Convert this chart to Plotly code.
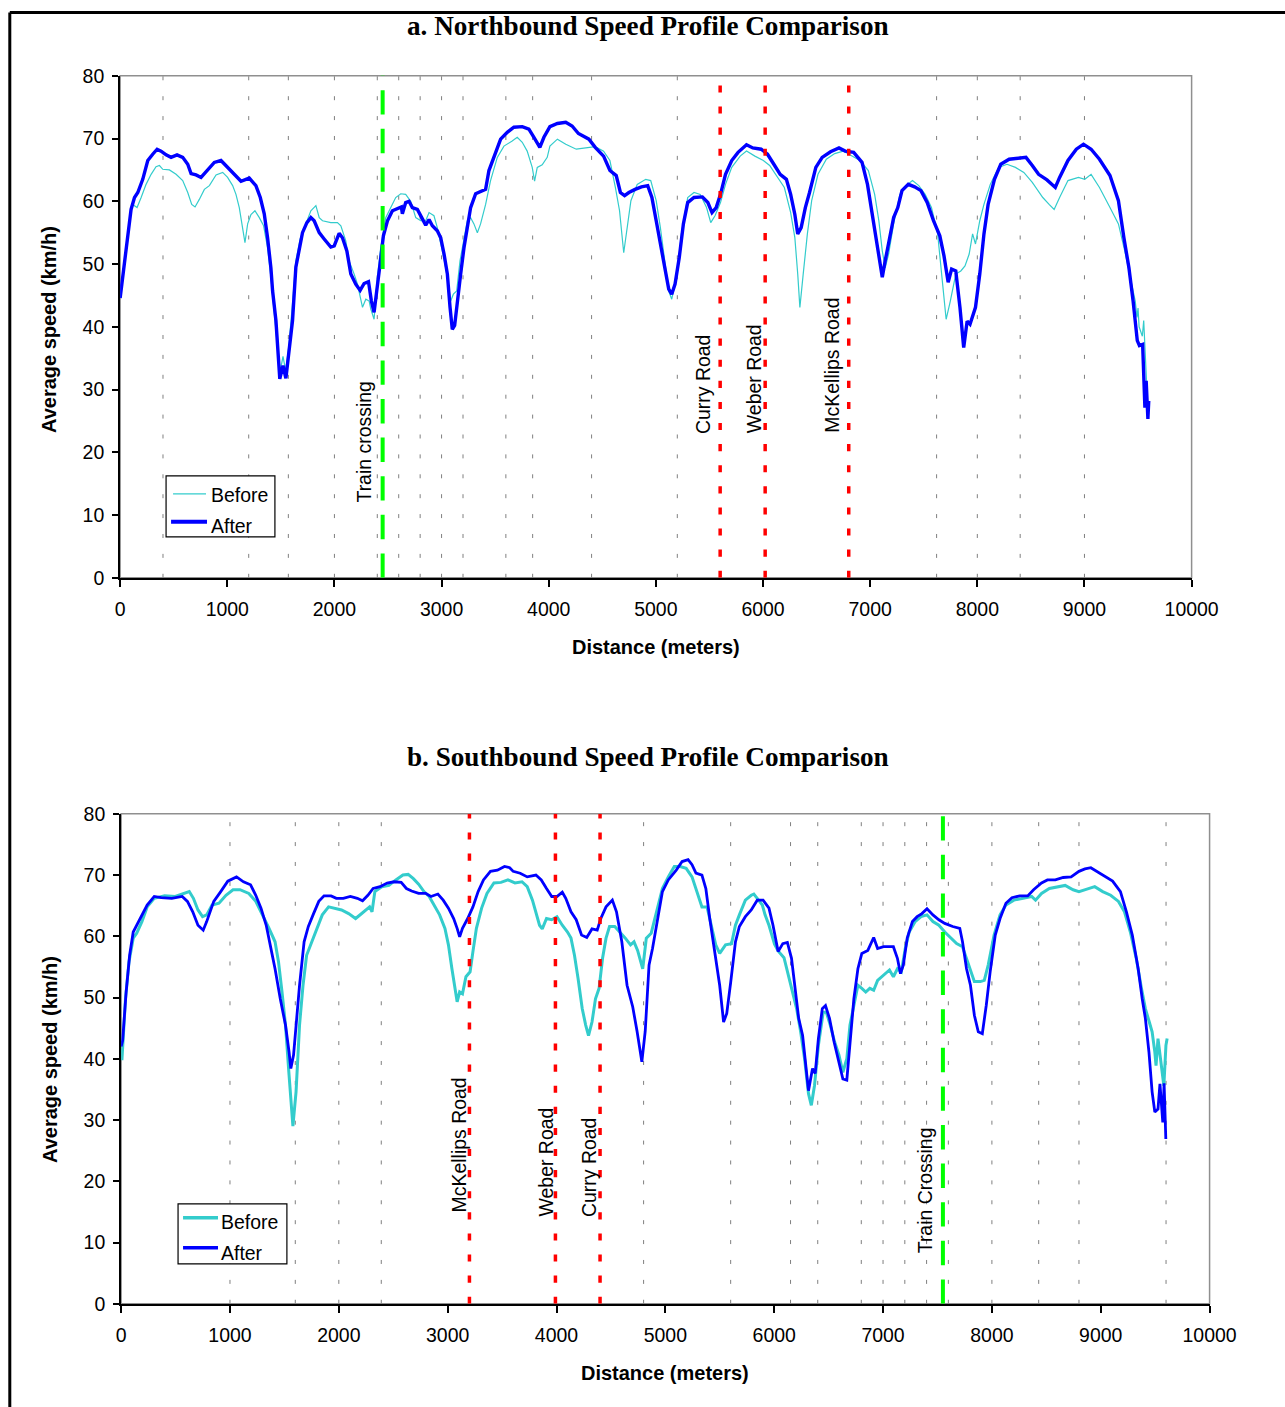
import plotly.graph_objects as go

# ---------------------------------------------------------------------------
# Speed profiles: (distance in metres, average speed in km/h)
# ---------------------------------------------------------------------------
NB_BEFORE = [
    (0, 44.6), (40, 50.0), (71, 54.5), (95, 58.0), (118, 59.5), (158, 59.0), (196, 60.6),
    (242, 62.7), (289, 64.3), (335, 65.5), (367, 65.7), (398, 65.1), (460, 65.0), (522, 64.3),
    (584, 63.3), (631, 61.4), (668, 59.5), (699, 59.1), (739, 60.3), (786, 61.9), (833, 62.5),
    (895, 64.2), (957, 64.6), (1003, 63.8), (1050, 62.5), (1081, 61.1), (1112, 59.0),
    (1143, 55.8), (1165, 53.4), (1190, 56.4), (1221, 57.9), (1258, 58.5), (1299, 57.4),
    (1339, 56.1), (1376, 52.6), (1407, 47.9), (1438, 42.0), (1470, 36.5), (1495, 33.0),
    (1520, 35.3), (1545, 33.0), (1575, 37.0), (1605, 43.0), (1640, 50.5), (1680, 54.0),
    (1733, 56.4), (1780, 58.5), (1827, 59.3), (1858, 57.4), (1889, 56.9), (1966, 56.6),
    (2028, 56.6), (2060, 56.1), (2106, 53.7), (2137, 50.5), (2184, 48.4), (2215, 46.8),
    (2262, 43.1), (2293, 44.4), (2324, 44.1), (2340, 42.8), (2370, 41.2), (2401, 47.9),
    (2432, 52.6), (2479, 57.4), (2526, 59.0), (2572, 60.6), (2619, 61.2), (2665, 61.1),
    (2712, 60.0), (2759, 57.4), (2805, 56.9), (2852, 56.9), (2883, 58.2), (2929, 57.7),
    (2960, 55.8), (2992, 53.4), (3023, 50.8), (3054, 47.9), (3085, 44.1), (3110, 45.2),
    (3141, 45.7), (3172, 50.5), (3209, 53.7), (3240, 56.9), (3271, 57.4), (3302, 56.4),
    (3334, 55.0), (3364, 56.4), (3411, 59.5), (3457, 63.3), (3520, 67.0), (3582, 68.8),
    (3659, 69.6), (3706, 70.2), (3753, 69.4), (3799, 68.0), (3846, 65.4), (3868, 63.2),
    (3893, 65.4), (3939, 65.8), (3986, 67.0), (4011, 68.8), (4081, 69.9), (4159, 69.1),
    (4257, 68.3), (4355, 68.5), (4434, 68.7), (4512, 68.0), (4571, 66.5), (4622, 62.2),
    (4661, 58.5), (4700, 51.8), (4728, 55.3), (4767, 60.1), (4826, 62.7), (4905, 63.5),
    (4952, 63.3), (5003, 60.1), (5042, 55.8), (5081, 50.5), (5120, 45.7), (5148, 44.4),
    (5199, 48.4), (5238, 54.8), (5297, 60.6), (5356, 61.4), (5414, 61.1), (5473, 59.0),
    (5512, 56.6), (5552, 57.7), (5603, 59.8), (5650, 62.7), (5708, 65.4), (5787, 67.2),
    (5846, 68.0), (5924, 67.2), (6003, 66.5), (6062, 65.7), (6140, 63.8), (6199, 62.2),
    (6258, 58.2), (6297, 54.2), (6324, 48.4), (6344, 43.1), (6375, 48.4), (6414, 54.8),
    (6454, 60.1), (6513, 64.3), (6591, 66.7), (6669, 67.6), (6748, 68.0), (6826, 67.2),
    (6905, 66.5), (6983, 64.9), (7042, 61.1), (7081, 56.9), (7113, 52.1), (7140, 49.4),
    (7172, 51.6), (7219, 56.4), (7277, 61.1), (7336, 62.5), (7395, 63.3), (7454, 62.5),
    (7513, 61.1), (7572, 59.0), (7630, 54.8), (7670, 47.9), (7709, 41.2), (7748, 44.1),
    (7799, 48.4), (7846, 48.9), (7885, 49.7), (7924, 51.6), (7956, 54.8), (7983, 53.2),
    (8023, 56.9), (8062, 59.5), (8121, 62.7), (8199, 65.4), (8277, 65.9), (8356, 65.4),
    (8434, 64.6), (8513, 63.0), (8611, 60.6), (8670, 59.5), (8717, 58.7), (8768, 60.6),
    (8846, 63.3), (8944, 63.8), (9003, 63.5), (9062, 64.3), (9140, 62.2), (9238, 59.0),
    (9317, 56.4), (9376, 52.1), (9435, 47.3), (9474, 44.1), (9490, 41.5), (9500, 43.0),
    (9510, 40.0), (9540, 38.5), (9553, 41.0), (9570, 36.0), (9580, 31.0),
]

NB_AFTER = [
    (0, 44.6), (40, 50.5), (71, 55.3), (102, 58.7), (134, 60.6), (165, 61.4), (211, 63.5),
    (258, 66.5), (304, 67.5), (345, 68.3), (382, 68.0), (429, 67.4), (475, 67.0), (531, 67.4),
    (584, 67.0), (631, 65.9), (662, 64.4), (708, 64.2), (755, 63.8), (817, 65.1), (879, 66.2),
    (941, 66.5), (988, 65.7), (1050, 64.6), (1128, 63.2), (1205, 63.7), (1267, 62.5),
    (1308, 60.6), (1345, 58.0), (1376, 54.2), (1407, 49.4), (1423, 45.7), (1454, 41.0),
    (1490, 31.7), (1520, 33.8), (1547, 31.8), (1578, 36.2), (1609, 41.0), (1640, 49.5),
    (1671, 52.6), (1702, 55.0), (1743, 56.6), (1780, 57.4), (1811, 56.9), (1858, 55.0),
    (1904, 54.0), (1966, 52.7), (1998, 52.9), (2044, 54.9), (2075, 54.2), (2116, 52.1),
    (2153, 48.4), (2199, 46.8), (2240, 45.8), (2277, 46.9), (2318, 47.2), (2345, 44.1),
    (2370, 42.3), (2395, 46.3), (2426, 50.0), (2457, 54.5), (2495, 56.9), (2541, 58.5),
    (2588, 58.9), (2625, 59.1), (2634, 58.0), (2665, 59.8), (2696, 60.0), (2727, 59.0),
    (2774, 58.7), (2805, 57.7), (2852, 56.2), (2883, 57.1), (2914, 56.1), (2960, 55.3),
    (2992, 54.2), (3023, 51.6), (3054, 48.4), (3079, 43.1), (3100, 39.6), (3122, 40.2),
    (3153, 45.2), (3178, 48.4), (3209, 52.6), (3240, 55.8), (3271, 59.0), (3318, 61.2),
    (3364, 61.5), (3411, 61.9), (3442, 64.9), (3488, 67.0), (3551, 69.9), (3613, 71.0),
    (3675, 71.8), (3753, 71.9), (3815, 71.5), (3862, 70.2), (3917, 68.6), (3955, 70.2),
    (4011, 71.9), (4081, 72.4), (4159, 72.6), (4218, 72.0), (4277, 70.8), (4375, 69.9),
    (4434, 68.6), (4512, 67.2), (4571, 64.9), (4630, 64.1), (4669, 61.4), (4708, 60.9),
    (4748, 61.4), (4806, 61.9), (4865, 62.3), (4924, 62.5), (4963, 60.6), (5003, 56.9),
    (5042, 53.4), (5081, 49.4), (5120, 46.0), (5148, 45.2), (5179, 46.8), (5218, 51.0),
    (5257, 56.4), (5297, 59.8), (5356, 60.6), (5434, 60.7), (5485, 59.8), (5524, 58.2),
    (5563, 59.0), (5603, 61.1), (5650, 64.3), (5708, 66.5), (5767, 67.8), (5846, 69.0),
    (5905, 68.5), (5983, 68.3), (6042, 67.5), (6101, 65.9), (6160, 64.3), (6218, 63.5),
    (6258, 61.1), (6297, 57.9), (6324, 54.8), (6356, 55.8), (6395, 59.0), (6434, 61.4),
    (6493, 65.4), (6552, 67.0), (6630, 67.9), (6709, 68.5), (6767, 68.0), (6846, 67.8),
    (6924, 66.2), (6975, 62.7), (7022, 57.9), (7062, 53.7), (7093, 50.0), (7113, 47.9),
    (7140, 50.5), (7179, 54.2), (7219, 57.4), (7258, 59.0), (7297, 61.7), (7356, 62.7),
    (7415, 62.3), (7474, 61.7), (7532, 59.8), (7591, 56.9), (7650, 54.5), (7689, 51.3),
    (7728, 47.1), (7760, 49.2), (7799, 48.9), (7838, 43.1), (7873, 36.7), (7905, 40.9),
    (7932, 40.4), (7983, 43.1), (8023, 48.4), (8062, 54.8), (8101, 59.5), (8160, 63.5),
    (8219, 65.9), (8297, 66.7), (8395, 66.9), (8454, 67.0), (8513, 65.7), (8572, 64.3),
    (8650, 63.4), (8728, 62.2), (8768, 63.8), (8846, 66.5), (8924, 68.3), (8991, 69.1),
    (9062, 68.3), (9140, 66.7), (9238, 64.1), (9317, 60.1), (9368, 54.2), (9415, 49.4),
    (9454, 44.1), (9493, 37.8), (9513, 37.0), (9543, 37.2), (9564, 27.1), (9576, 31.4),
    (9592, 25.3), (9600, 28.2),
]

SB_BEFORE = [
    (0, 40.0), (8, 40.0), (40, 49.8), (72, 55.8), (111, 59.7), (143, 60.5), (191, 62.4),
    (239, 64.8), (304, 66.2), (400, 66.6), (497, 66.5), (577, 67.0), (626, 67.3), (664, 66.2),
    (706, 64.3), (748, 63.2), (786, 63.5), (835, 65.1), (899, 65.4), (963, 66.7), (1028, 67.6),
    (1092, 67.6), (1173, 67.0), (1237, 65.7), (1301, 63.5), (1359, 61.3), (1414, 59.1),
    (1446, 55.8), (1478, 50.9), (1510, 45.5), (1543, 37.3), (1578, 29.0), (1607, 34.6),
    (1639, 45.5), (1671, 52.0), (1704, 56.9), (1752, 59.1), (1800, 61.3), (1848, 63.5),
    (1906, 64.8), (1961, 64.6), (2025, 64.3), (2090, 63.7), (2154, 62.9), (2202, 63.6),
    (2250, 64.3), (2283, 64.8), (2305, 64.0), (2331, 67.3), (2395, 68.1), (2460, 68.3),
    (2524, 69.2), (2589, 70.0), (2637, 70.1), (2685, 69.4), (2733, 68.5), (2782, 67.3),
    (2830, 66.5), (2878, 65.1), (2926, 63.5), (2975, 61.3), (3007, 58.6), (3039, 54.7),
    (3065, 52.0), (3087, 49.3), (3110, 50.9), (3136, 50.6), (3168, 53.4), (3206, 54.2),
    (3232, 57.5), (3264, 61.3), (3312, 64.6), (3361, 67.0), (3425, 68.7), (3490, 68.8),
    (3554, 69.2), (3618, 68.7), (3683, 68.9), (3731, 68.1), (3779, 65.9), (3818, 63.5),
    (3844, 61.8), (3869, 61.2), (3908, 62.9), (3956, 62.7), (4004, 63.2), (4053, 61.8),
    (4101, 60.7), (4133, 59.7), (4165, 56.9), (4198, 53.1), (4236, 48.2), (4268, 45.5),
    (4294, 43.8), (4326, 46.0), (4358, 49.8), (4391, 51.5), (4423, 56.4), (4455, 59.7),
    (4487, 61.6), (4535, 61.6), (4583, 60.7), (4632, 59.7), (4680, 58.6), (4712, 59.1),
    (4745, 57.7), (4792, 54.7), (4825, 59.7), (4870, 60.5), (4919, 64.0), (4973, 67.8),
    (5027, 69.7), (5082, 71.4), (5136, 71.4), (5191, 71.1), (5245, 69.7), (5299, 66.7),
    (5336, 64.8), (5383, 64.8), (5419, 61.8), (5463, 58.6), (5499, 57.2), (5553, 58.6),
    (5608, 58.8), (5644, 61.8), (5680, 63.5), (5735, 65.9), (5789, 66.7), (5813, 66.9),
    (5844, 66.2), (5891, 65.1), (5916, 63.5), (5952, 61.8), (6003, 58.7), (6036, 57.6),
    (6090, 56.5), (6136, 53.3), (6167, 51.1), (6206, 48.2), (6243, 44.4), (6279, 40.0),
    (6315, 34.3), (6341, 32.4), (6370, 35.6), (6406, 42.2), (6450, 47.6), (6479, 47.6),
    (6515, 45.5), (6551, 43.0), (6595, 40.6), (6631, 37.8), (6667, 40.0), (6696, 45.5),
    (6732, 48.7), (6769, 52.0), (6805, 51.5), (6841, 50.9), (6878, 51.5), (6914, 51.2),
    (6950, 52.8), (6986, 53.4), (7023, 53.9), (7059, 54.5), (7095, 53.4), (7132, 54.7),
    (7168, 54.2), (7204, 58.0), (7240, 60.7), (7295, 62.4), (7349, 63.2), (7404, 63.5),
    (7458, 62.4), (7513, 61.8), (7567, 60.7), (7622, 59.7), (7676, 58.8), (7730, 58.3),
    (7784, 55.3), (7839, 52.6), (7894, 52.6), (7930, 52.8), (7966, 55.3), (8020, 60.2),
    (8075, 63.5), (8129, 65.1), (8202, 65.9), (8293, 66.3), (8365, 66.5), (8401, 65.9),
    (8456, 67.0), (8528, 67.8), (8601, 68.1), (8673, 68.3), (8746, 67.6), (8800, 67.3),
    (8873, 67.7), (8945, 68.1), (9018, 67.3), (9091, 66.7), (9163, 65.7), (9218, 64.0),
    (9272, 60.7), (9326, 56.4), (9374, 51.5), (9410, 48.2), (9446, 46.0), (9472, 44.4),
    (9497, 41.1), (9508, 38.9), (9526, 43.3), (9555, 38.9), (9580, 35.6), (9599, 42.2),
    (9610, 43.3),
]

SB_AFTER = [
    (0, 42.0), (14, 43.0), (46, 50.9), (78, 56.9), (111, 60.7), (143, 61.8), (191, 63.2),
    (239, 65.1), (304, 66.5), (368, 66.3), (465, 66.2), (561, 66.5), (609, 65.7), (658, 64.0),
    (706, 61.8), (754, 61.0), (786, 62.4), (851, 65.7), (915, 67.3), (980, 69.0), (1060, 69.7),
    (1124, 68.9), (1189, 68.4), (1237, 66.7), (1285, 64.6), (1333, 61.8), (1382, 57.5),
    (1414, 54.7), (1462, 49.8), (1510, 45.5), (1543, 41.1), (1559, 38.4), (1584, 40.6),
    (1607, 45.5), (1639, 52.0), (1681, 59.1), (1720, 61.6), (1768, 63.7), (1816, 65.7),
    (1864, 66.6), (1929, 66.6), (1977, 66.2), (2041, 66.2), (2106, 66.5), (2170, 66.2),
    (2218, 65.8), (2267, 66.7), (2315, 67.8), (2379, 68.1), (2444, 68.7), (2508, 68.9),
    (2573, 68.8), (2621, 67.8), (2669, 67.4), (2733, 67.0), (2798, 67.0), (2846, 66.5),
    (2910, 66.9), (2959, 65.9), (3007, 64.6), (3055, 62.9), (3087, 61.3), (3110, 59.9),
    (3136, 61.3), (3184, 62.9), (3232, 64.8), (3280, 67.3), (3329, 69.2), (3393, 70.6),
    (3457, 70.8), (3522, 71.4), (3570, 71.2), (3602, 70.6), (3666, 70.3), (3731, 69.7),
    (3811, 70.0), (3860, 69.2), (3908, 67.8), (3956, 66.5), (4004, 66.5), (4053, 67.2),
    (4085, 66.2), (4133, 64.0), (4181, 62.7), (4230, 60.2), (4278, 59.8), (4326, 61.2),
    (4374, 61.0), (4407, 62.9), (4455, 64.8), (4513, 65.9), (4551, 64.0), (4600, 59.1),
    (4648, 52.0), (4700, 48.5), (4740, 44.5), (4784, 39.5), (4815, 44.5), (4850, 55.3),
    (4882, 58.0), (4919, 61.8), (4973, 67.3), (5027, 69.2), (5100, 70.8), (5154, 72.2),
    (5209, 72.5), (5245, 71.7), (5281, 70.3), (5336, 70.0), (5372, 67.8), (5408, 62.9),
    (5463, 56.4), (5499, 52.0), (5535, 46.0), (5564, 47.4), (5601, 52.6), (5644, 59.1),
    (5680, 61.6), (5735, 63.2), (5789, 64.3), (5844, 65.9), (5898, 65.9), (5952, 64.6),
    (5989, 61.8), (6036, 57.5), (6079, 58.8), (6121, 59.0), (6159, 56.4), (6196, 50.9),
    (6225, 46.6), (6261, 43.8), (6290, 38.4), (6315, 34.8), (6352, 38.4), (6377, 37.6),
    (6406, 43.3), (6442, 48.2), (6471, 48.7), (6508, 46.6), (6551, 42.7), (6595, 39.5),
    (6631, 36.7), (6667, 36.5), (6696, 42.7), (6732, 49.8), (6769, 54.7), (6805, 57.2),
    (6860, 57.7), (6914, 59.8), (6950, 58.0), (7004, 58.3), (7095, 58.3), (7132, 56.4),
    (7160, 53.9), (7186, 55.3), (7222, 59.7), (7270, 62.4), (7313, 63.2), (7357, 63.7),
    (7404, 64.5), (7458, 63.5), (7513, 62.7), (7567, 62.1), (7640, 61.6), (7705, 61.3),
    (7730, 59.1), (7767, 54.7), (7803, 52.0), (7839, 47.1), (7875, 44.4), (7912, 44.1),
    (7948, 48.7), (7984, 54.2), (8031, 60.2), (8075, 62.9), (8129, 65.4), (8184, 66.3),
    (8256, 66.6), (8329, 66.6), (8383, 67.6), (8456, 68.7), (8510, 69.2), (8583, 69.2),
    (8655, 69.6), (8728, 69.7), (8800, 70.6), (8855, 71.0), (8909, 71.2), (8964, 70.6),
    (9036, 69.7), (9109, 69.0), (9181, 67.3), (9236, 64.0), (9290, 60.2), (9344, 54.7),
    (9381, 49.8), (9410, 46.6), (9443, 41.1), (9472, 34.6), (9497, 31.3), (9526, 31.8),
    (9544, 35.9), (9570, 29.6), (9582, 36.0), (9598, 26.9),
]

# Survey reference points (faint vertical guides) along each direction
NB_GUIDES = [400, 1200, 1570, 2000, 2400, 2600, 2800, 3000, 3200, 3600, 3850,
             4400, 5200, 7620, 8000, 8400, 9000]
SB_GUIDES = [1000, 1600, 2000, 2390, 4800, 5600, 6150, 6400, 6800, 7000, 7200,
             7400, 7600, 8000, 8430, 8800, 9600]

# Landmarks: (label, distance in metres)
NB_ROADS = [("Curry Road", 5600), ("Weber Road", 6020), ("McKellips Road", 6800)]
NB_TRAIN = ("Train crossing", 2450)
SB_ROADS = [("McKellips Road", 3200), ("Weber Road", 3990), ("Curry Road", 4400)]
SB_TRAIN = ("Train Crossing", 7550)

X_TICKS = list(range(0, 10001, 1000))
X_TICK_TEXT = [str(v) for v in X_TICKS]
Y_TICKS = list(range(0, 81, 10))

SERIES_NAMES = ["Before", "After"]
TITLES = ["a. Northbound Speed Profile Comparison", "b. Southbound Speed Profile Comparison"]
X_TITLE = "Distance (meters)"
Y_TITLE = "Average speed (km/h)"

# ---------------------------------------------------------------------------
# Page geometry and styling.  Layout positions below are page pixels; the
# helpers convert them to paper coordinates, allowing for the small scale and
# offset between the figure canvas and the captured page.
# ---------------------------------------------------------------------------
W, H = 1312, 1418
SCALE_X, SCALE_Y = 0.977, 0.9845
OFF_X, OFF_Y = 3.7, 10.2
SANS = "Liberation Sans, Arial, sans-serif"
SERIF = "Liberation Serif, Times New Roman, serif"
CYAN = "#33CCCC"
BLUE = "#0000FF"
FONT_K = 1.025


def cx(p):
    """page x pixel -> canvas pixel"""
    return (p - OFF_X) / SCALE_X


def cy(p):
    """page y pixel -> canvas pixel"""
    return (p - OFF_Y) / SCALE_Y


def fx(p):
    return cx(p) / W


def fy(p):
    return 1 - cy(p) / H


def fs(size):
    return round(size * FONT_K, 2)


PANELS = [
    dict(left=119, right=1192, top=75, bottom=577),
    dict(left=120, right=1210, top=813, bottom=1303),
]

fig = go.Figure()


def unzip(pairs):
    return [p[0] for p in pairs], [p[1] for p in pairs]


LINE_STYLES = [
    # (before width, after width) per panel
    (1.2, 3.4),
    (3.0, 2.8),
]
series = [
    (NB_BEFORE, NB_AFTER, "x", "y"),
    (SB_BEFORE, SB_AFTER, "x2", "y2"),
]
for (before, after, xa, ya), (wb, wa) in zip(series, LINE_STYLES):
    for pairs, name, color, width in ((before, SERIES_NAMES[0], CYAN, wb),
                                      (after, SERIES_NAMES[1], BLUE, wa)):
        xs, ys = unzip(pairs)
        fig.add_trace(go.Scatter(x=xs, y=ys, mode="lines", name=name,
                                 line=dict(color=color, width=width),
                                 xaxis=xa, yaxis=ya, showlegend=False))

axis_font = dict(family=SANS, size=fs(19), color="black")


def xaxis_cfg(panel, anchor):
    return dict(domain=[fx(panel["left"]), fx(panel["right"])], anchor=anchor,
                range=[0, 10000], tickvals=X_TICKS, ticktext=X_TICK_TEXT,
                ticks="outside", ticklen=7,
                tickwidth=1.5, tickcolor="black", showline=True, linecolor="black",
                linewidth=2, showgrid=False, zeroline=False, tickfont=axis_font,
                ticklabelstandoff=6, fixedrange=True)


def yaxis_cfg(panel, anchor):
    return dict(domain=[fy(panel["bottom"]), fy(panel["top"])], anchor=anchor,
                range=[0, 80], tickvals=Y_TICKS, ticks="outside", ticklen=6,
                tickwidth=1.5, tickcolor="black", showline=True, linecolor="black",
                linewidth=2, showgrid=False, zeroline=False, tickfont=axis_font,
                ticklabelstandoff=4, fixedrange=True)


shapes = []
annotations = []

# outer page frame (top and left edges)
shapes.append(dict(type="line", xref="paper", yref="paper", x0=fx(8.5), x1=1.0,
                   y0=1 - 1.5 / H, y1=1 - 1.5 / H, line=dict(color="black", width=3)))
shapes.append(dict(type="line", xref="paper", yref="paper", x0=fx(8.5), x1=fx(8.5),
                   y0=1 - 1.5 / H, y1=0, line=dict(color="black", width=3)))

panel_specs = [
    (PANELS[0], "x", "y", NB_GUIDES, NB_ROADS, NB_TRAIN,
     {"Curry Road": (-16, 435), "Weber Road": (-11, 434), "McKellips Road": (-16, 434)},
     (-18, 504)),
    (PANELS[1], "x2", "y2", SB_GUIDES, SB_ROADS, SB_TRAIN,
     {"McKellips Road": (-10, 1214), "Weber Road": (-9, 1218), "Curry Road": (-11, 1218)},
     (-18, 1254)),
]

label_font = dict(family=SANS, size=fs(19), color="black")
for panel, xa, ya, guides, roads, train, road_pos, train_pos in panel_specs:
    # grey frame around the plotting area (left/bottom are covered by the axes)
    shapes.append(dict(type="rect", xref=f"{xa} domain", yref=f"{ya} domain",
                       x0=0, x1=1, y0=0, y1=1, layer="below",
                       line=dict(color="#8f8f8f", width=1.5)))
    for g in guides:
        shapes.append(dict(type="line", xref=xa, yref=ya, x0=g, x1=g, y0=0, y1=80,
                           layer="below",
                           line=dict(color="#7f7f7f", width=1, dash="4px,15.9px")))
    for name, pos in roads:
        shapes.append(dict(type="line", xref=xa, yref=ya, x0=pos, x1=pos, y0=0, y1=80,
                           line=dict(color="#FF0000", width=3.5, dash="7.1px,14px")))
        dx, ybot = road_pos[name]
        annotations.append(dict(text=name, xref=xa, yref="paper", x=pos,
                                xshift=dx / SCALE_X, y=fy(ybot), xanchor="center",
                                yanchor="bottom", textangle=-90, showarrow=False,
                                font=label_font))
    tname, tpos = train
    shapes.append(dict(type="line", xref=xa, yref=ya, x0=tpos, x1=tpos, y0=0, y1=80.4,
                       line=dict(color="#00FF00", width=4, dash="24.4px,14.2px")))
    annotations.append(dict(text=tname, xref=xa, yref="paper", x=tpos,
                            xshift=train_pos[0] / SCALE_X, y=fy(train_pos[1]),
                            xanchor="center", yanchor="bottom", textangle=-90,
                            showarrow=False, font=label_font))

# legend boxes drawn as shapes + text
LEGENDS = [
    dict(box=(165, 475, 274, 536), rows=[(493, 172, 205, 494), (521, 170, 206, 525.5)],
         text_x=208.5, widths=(1.2, 4.0)),
    dict(box=(177, 1203, 286, 1263), rows=[(1217, 182, 217, 1221), (1247, 182, 217, 1252)],
         text_x=219.5, widths=(3.5, 3.5)),
]
for leg in LEGENDS:
    x0, y0, x1, y1 = leg["box"]
    shapes.append(dict(type="rect", xref="paper", yref="paper",
                       x0=fx(x0), x1=fx(x1), y0=fy(y1), y1=fy(y0),
                       fillcolor="white", line=dict(color="black", width=1.2)))
    for (ly, lx0, lx1, ty), name, color, w in zip(leg["rows"], SERIES_NAMES,
                                                   (CYAN, BLUE), leg["widths"]):
        shapes.append(dict(type="line", xref="paper", yref="paper",
                           x0=fx(lx0), x1=fx(lx1), y0=fy(ly), y1=fy(ly),
                           line=dict(color=color, width=w)))
        annotations.append(dict(text=name, xref="paper", yref="paper",
                                x=fx(leg["text_x"]), y=fy(ty), xanchor="left",
                                yanchor="middle", showarrow=False, borderpad=0,
                                font=label_font))

# titles and axis titles
title_y = [25, 756]
xtitle_pos = [(656, 646), (665, 1372)]
ytitle_pos = [(48, 329), (49, 1059)]
for k in range(2):
    annotations.append(dict(text=f"<b>{TITLES[k]}</b>", xref="paper", yref="paper",
                            x=fx(648), y=fy(title_y[k]), xanchor="center",
                            yanchor="middle", showarrow=False,
                            font=dict(family=SERIF, size=fs(26.5), color="black")))
    annotations.append(dict(text=f"<b>{X_TITLE}</b>", xref="paper", yref="paper",
                            x=fx(xtitle_pos[k][0]), y=fy(xtitle_pos[k][1]),
                            xanchor="center", yanchor="middle", showarrow=False,
                            font=dict(family=SANS, size=fs(19.5), color="black")))
    annotations.append(dict(text=f"<b>{Y_TITLE}</b>", xref="paper", yref="paper",
                            x=fx(ytitle_pos[k][0]), y=fy(ytitle_pos[k][1]),
                            xanchor="center", yanchor="middle", textangle=-90,
                            showarrow=False,
                            font=dict(family=SANS, size=fs(19.5), color="black")))

fig.update_layout(
    width=W, height=H,
    margin=dict(l=0, r=0, t=0, b=0),
    paper_bgcolor="white", plot_bgcolor="white",
    showlegend=False,
    xaxis=xaxis_cfg(PANELS[0], "y"),
    yaxis=yaxis_cfg(PANELS[0], "x"),
    xaxis2=xaxis_cfg(PANELS[1], "y2"),
    yaxis2=yaxis_cfg(PANELS[1], "x2"),
    shapes=shapes,
    annotations=annotations,
)

fig.write_html("out.html")
